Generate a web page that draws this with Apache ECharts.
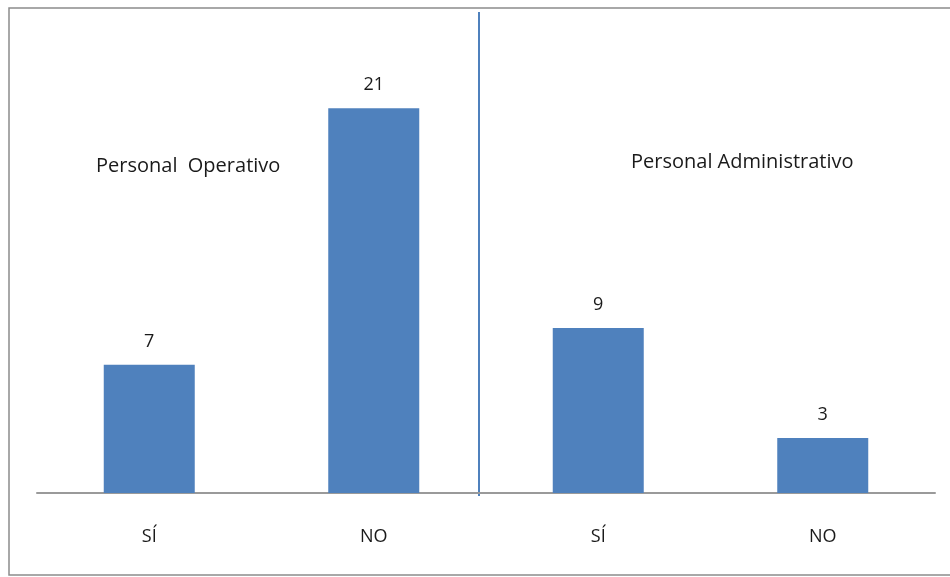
<!DOCTYPE html>
<html>
<head>
<meta charset="utf-8">
<script src="https://cdn.jsdelivr.net/npm/echarts@6/dist/echarts.min.js"></script>
<style>
  html, body { margin: 0; padding: 0; background: #fff; }
  #chart { width: 950px; height: 577px; }
</style>
</head>
<body>
<div id="chart"></div>
<script>
// categorias y valores
const categories = ['SÍ', 'NO', 'SÍ', 'NO'];
const values = [7, 21, 9, 3];
const groupLabels = ['Personal  Operativo', 'Personal Administrativo'];

const chart = echarts.init(document.getElementById('chart'));

const option = {
  animation: false,
  grid: { left: 37, right: 15, top: 35, bottom: 84 },
  xAxis: {
    type: 'category',
    data: categories,
    axisTick: { show: false },
    axisLine: { lineStyle: { color: '#9a9a9a', width: 2 } },
    axisLabel: {
      margin: 35,
      fontFamily: 'Open Sans',
      fontSize: 18,
      color: '#1a1a1a'
    }
  },
  yAxis: {
    type: 'value',
    min: 0,
    max: 25,
    show: false
  },
  series: [
    {
      type: 'bar',
      data: values,
      barWidth: 91,
      itemStyle: { color: '#4f81bd' },
      label: {
        show: true,
        position: 'top',
        distance: 14,
        fontFamily: 'Open Sans',
        fontSize: 18,
        color: '#1a1a1a'
      }
    }
  ],
  graphic: [
    // marco exterior
    {
      type: 'rect',
      shape: { x: 9, y: 8, width: 960, height: 567 },
      style: { fill: 'none', stroke: '#8c8c8c', lineWidth: 1.5 },
      z: -1
    },
    // separador entre grupos
    {
      type: 'line',
      shape: { x1: 479, y1: 12, x2: 479, y2: 496 },
      style: { stroke: '#4f81bd', lineWidth: 2 }
    },
    {
      type: 'text',
      left: 96,
      top: 156,
      style: { text: groupLabels[0], font: '20px "Open Sans"', fill: '#1a1a1a' }
    },
    {
      type: 'text',
      left: 631,
      top: 152,
      style: { text: groupLabels[1], font: '20px "Open Sans"', fill: '#1a1a1a' }
    }
  ]
};

chart.setOption(option);
</script>
</body>
</html>
